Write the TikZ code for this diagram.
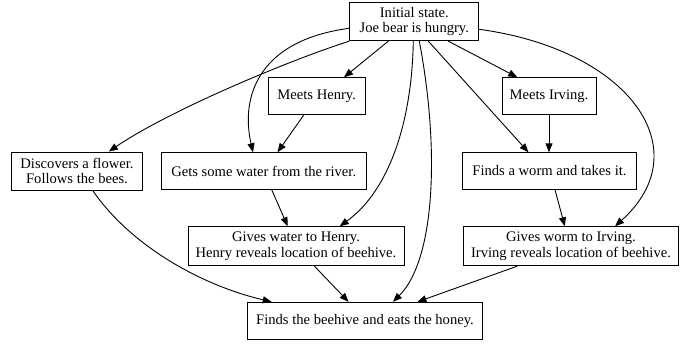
\documentclass[tikz,border=0pt]{standalone}
\usepackage{fontspec}
\setmainfont{Liberation Serif}
\usetikzlibrary{arrows.meta}
\begin{document}
\begin{tikzpicture}[x=1bp,y=-1bp,
  box/.style={draw, line width=0.9bp, align=center, inner sep=0pt,
    font=\fontsize{14.6bp}{15.6bp}\selectfont},
  edge/.style={line width=0.9bp, -{Triangle[length=9bp,width=7bp]}}]
\useasboundingbox (0,0) rectangle (694,345);
\node[box, minimum width=129bp, minimum height=38bp] (init) at (414.3,21.7) {Initial state.\\Joe bear is hungry.};
\node[box, minimum width=97bp, minimum height=36.5bp] (henry) at (316.7,96) {Meets Henry.};
\node[box, minimum width=94bp, minimum height=36.5bp] (irving) at (549,96) {Meets Irving.};
\node[box, minimum width=131bp, minimum height=38bp] (disc) at (77,171) {Discovers a flower.\\Follows the bees.};
\node[box, minimum width=205bp, minimum height=36.5bp] (water) at (263.7,171) {Gets some water from the river.};
\node[box, minimum width=173.5bp, minimum height=36.5bp] (worm) at (549.5,171) {Finds a worm and takes it.};
\node[box, minimum width=216bp, minimum height=39bp] (gwater) at (296,246.2) {Gives water to Henry.\\Henry reveals location of beehive.};
\node[box, minimum width=215.5bp, minimum height=39bp] (gworm) at (571,246.2) {Gives worm to Irving.\\Irving reveals location of beehive.};
\node[box, minimum width=235.5bp, minimum height=37bp] (hive) at (365,320.8) {Finds the beehive and eats the honey.};

\draw[edge] (init.south west) .. controls (290,60) and (170,110) .. ([xshift=31.8bp]disc.north);
\draw[edge] ([yshift=-6.6bp]init.west) .. controls (260,40) and (240,95) .. ([xshift=-10.7bp]water.north);
\draw[edge] ([xshift=-26bp]init.south) -- ([xshift=27.3bp]henry.north);
\draw[edge] ([xshift=-12.7bp]henry.south) -- ([xshift=13.8bp]water.north);
\draw[edge] ([xshift=-1bp]init.south) .. controls (412,120) and (390,190) .. ([xshift=43.7bp]gwater.north);
\draw[edge] ([xshift=5bp]init.south) .. controls (440,150) and (435,260) .. ([xshift=28bp]hive.north);
\draw[edge] ([xshift=14bp]init.south) -- ([xshift=-21bp]worm.north);
\draw[edge] ([xshift=34bp]init.south) -- ([xshift=-31.7bp]irving.north);
\draw[edge] (irving.south) -- (worm.north -| irving.south);
\draw[edge] ([yshift=-7.6bp]init.east) .. controls (630,50) and (700,150) .. ([xshift=44bp]gworm.north);
\draw[edge] ([xshift=15.7bp]disc.south) .. controls (130,245) and (200,285) .. ([xshift=-93.3bp]hive.north);
\draw[edge] ([xshift=8bp]water.south) -- ([xshift=-8.3bp]gwater.north);
\draw[edge] ([xshift=18.4bp]gwater.south) -- ([xshift=-16.4bp]hive.north);
\draw[edge] ([xshift=5.5bp]worm.south) -- ([xshift=-6.2bp]gworm.north);
\draw[edge] ([xshift=-53.7bp]gworm.south) -- ([xshift=52.4bp]hive.north);
\end{tikzpicture}
\end{document}
